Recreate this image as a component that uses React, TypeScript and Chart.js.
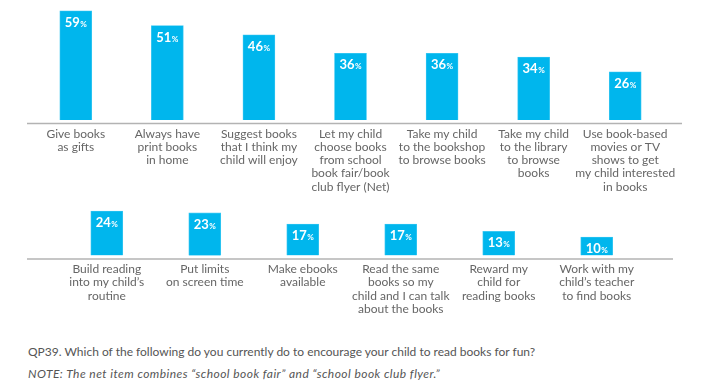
import React, { useEffect, useRef } from "react";
import { Chart, registerables } from "chart.js";

Chart.register(...registerables);

const topCategories: string[][] = [
  ["Give books", "as gifts"],
  ["Always have", "print books", "in home"],
  ["Suggest books", "that I think my", "child will enjoy"],
  ["Let my child", "choose books", "from school", "book fair/book", "club flyer (Net)"],
  ["Take my child", "to the bookshop", "to browse books"],
  ["Take my child", "to the library", "to browse", "books"],
  ["Use book-based", "movies or TV", "shows to get", "my child interested", "in books"],
];
const topValues: number[] = [59, 51, 46, 36, 36, 34, 26];

const bottomCategories: string[][] = [
  ["Build reading", "into my child’s", "routine"],
  ["Put limits", "on screen time"],
  ["Make ebooks", "available"],
  ["Read the same", "books so my", "child and I can talk", "about the books"],
  ["Reward my", "child for", "reading books"],
  ["Work with my", "child’s teacher", "to find books"],
];
const bottomValues: number[] = [24, 23, 17, 17, 13, 10];

const questionText =
  "QP39. Which of the following do you currently do to encourage your child to read books for fun?";
const noteText =
  "NOTE: The net item combines “school book fair” and “school book club flyer.”";

const BAR_COLOR = "#00b6ed";
const FONT = "Lato, 'Open Sans', sans-serif";

const valueLabelPlugin = {
  id: "valueLabels",
  afterDatasetsDraw(chart: any) {
    const ctx = chart.ctx;
    const meta = chart.getDatasetMeta(0);
    const data = chart.data.datasets[0].data as number[];
    meta.data.forEach((bar: any, i: number) => {
      const num = String(data[i]);
      ctx.save();
      ctx.fillStyle = "#ffffff";
      ctx.textBaseline = "alphabetic";
      ctx.textAlign = "left";
      ctx.font = `bold 13px ${FONT}`;
      const w1 = ctx.measureText(num).width;
      ctx.font = `bold 8px ${FONT}`;
      const w2 = ctx.measureText("%").width;
      const x0 = bar.x - (w1 + w2 + 0.5) / 2;
      const y = bar.y + 16;
      ctx.font = `bold 13px ${FONT}`;
      ctx.fillText(num, x0, y);
      ctx.font = `bold 8px ${FONT}`;
      ctx.fillText("%", x0 + w1 + 0.5, y);
      ctx.restore();
    });
  },
};

const baselinePlugin = {
  id: "baseline",
  beforeDatasetsDraw(chart: any, _args: any, opts: any) {
    const { ctx, chartArea } = chart;
    const y = chartArea.bottom + (opts.offset ?? 3.5);
    ctx.save();
    ctx.strokeStyle = "#b3b3b3";
    ctx.lineWidth = 1.5;
    ctx.beginPath();
    ctx.moveTo(chartArea.left - (opts.extendLeft ?? 0), y);
    ctx.lineTo(chartArea.right + (opts.extendRight ?? 0), y);
    ctx.stroke();
    ctx.restore();
  },
};

function makeConfig(
  labels: string[][],
  values: number[],
  yMax: number,
  padding: { left: number; right: number; top: number },
  axisHeight: number,
  extendLeft: number,
  extendRight: number
): any {
  return {
    type: "bar",
    data: {
      labels,
      datasets: [
        {
          data: values,
          backgroundColor: BAR_COLOR,
          borderColor: "#3cc8f2",
          borderWidth: 0.8,
          barThickness: 32,
        },
      ],
    },
    options: {
      responsive: false,
      animation: false,
      layout: { padding: { left: padding.left, right: padding.right, top: padding.top, bottom: 0 } },
      plugins: {
        legend: { display: false },
        tooltip: { enabled: false },
        baseline: { offset: 3.5, extendLeft, extendRight },
      },
      scales: {
        x: {
          grid: { display: false, drawTicks: false },
          border: { display: false },
          ticks: {
            color: "#666666",
            padding: 7,
            maxRotation: 0,
            autoSkip: false,
            font: { family: FONT, size: 12, lineHeight: 1.11 },
          },
          afterFit: (scale: any) => {
            scale.height = axisHeight;
          },
        },
        y: {
          display: false,
          min: 0,
          max: yMax,
        },
      },
    },
    plugins: [baselinePlugin, valueLabelPlugin],
  };
}

function BarChart(props: {
  labels: string[][];
  values: number[];
  yMax: number;
  width: number;
  height: number;
  top: number;
  padding: { left: number; right: number; top: number };
  axisHeight: number;
  extendLeft: number;
  extendRight: number;
}) {
  const ref = useRef<HTMLCanvasElement | null>(null);
  useEffect(() => {
    if (!ref.current) return;
    const chart = new Chart(
      ref.current,
      makeConfig(
        props.labels,
        props.values,
        props.yMax,
        props.padding,
        props.axisHeight,
        props.extendLeft,
        props.extendRight
      )
    );
    return () => chart.destroy();
  }, []);
  return (
    <canvas
      ref={ref}
      width={props.width}
      height={props.height}
      style={{
        position: "absolute",
        left: 0,
        top: props.top,
        width: props.width,
        height: props.height,
      }}
    />
  );
}

export default function App() {
  return (
    <div
      style={{
        position: "fixed",
        left: 0,
        top: 0,
        width: 708,
        height: 389,
        background: "#ffffff",
        overflow: "hidden",
      }}
    >
      <BarChart
        labels={topCategories}
        values={topValues}
        yMax={60}
        width={708}
        height={205}
        top={0}
        padding={{ left: 30, right: 37, top: 9 }}
        axisHeight={85}
        extendLeft={3}
        extendRight={11}
      />
      <BarChart
        labels={bottomCategories}
        values={bottomValues}
        yMax={25}
        width={708}
        height={125}
        top={200}
        padding={{ left: 57.8, right: 62.3, top: 9.25 }}
        axisHeight={69.5}
        extendLeft={30.8}
        extendRight={27.3}
      />
      <div
        style={{
          position: "absolute",
          left: 28,
          top: 344,
          fontFamily: FONT,
          fontSize: 12,
          lineHeight: "15px",
          color: "#555555",
          whiteSpace: "nowrap",
        }}
      >
        {questionText}
      </div>
      <div
        style={{
          position: "absolute",
          left: 28,
          top: 366,
          fontFamily: FONT,
          fontSize: 12,
          lineHeight: "15px",
          fontStyle: "italic",
          letterSpacing: "0.45px",
          color: "#555555",
          whiteSpace: "nowrap",
        }}
      >
        {noteText}
      </div>
    </div>
  );
}
